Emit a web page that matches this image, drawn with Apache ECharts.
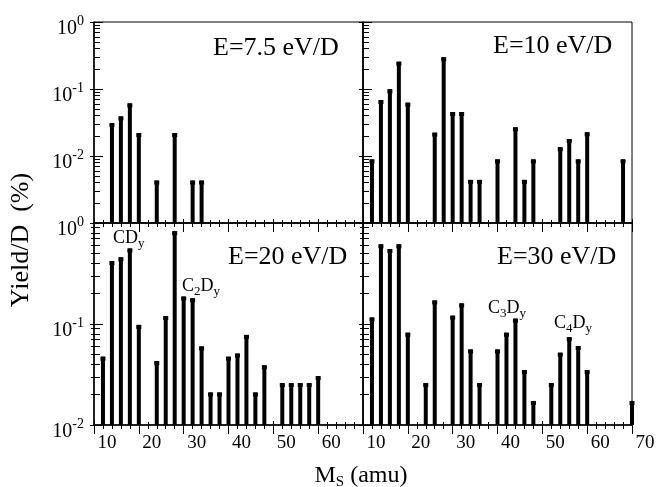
<!DOCTYPE html>
<html>
<head>
<meta charset="utf-8">
<script src="https://cdn.jsdelivr.net/npm/echarts@6/dist/echarts.min.js"></script>
<style>
  html, body { margin: 0; padding: 0; background: #fff; }
  #yield-chart { width: 659px; height: 487px; }
</style>
</head>
<body>
<div id="yield-chart"></div>
<script>
// sputtered mass (amu) and yield per D (%), one pair of arrays per energy
const mass75 = [14, 16, 18, 20, 24, 28, 32, 34];
const yield75 = [0.031, 0.039, 0.061, 0.022, 0.0043, 0.022, 0.0043, 0.0043];

const mass10 = [12, 14, 16, 18, 20, 26, 28, 30, 32, 34, 36, 40, 44, 46, 48, 54, 56, 58, 60, 68];
const yield10 = [0.0089, 0.0685, 0.099, 0.256, 0.0625, 0.0223, 0.297, 0.0454, 0.0454, 0.0044,
  0.0044, 0.0089, 0.0268, 0.0044, 0.0089, 0.0135, 0.0179, 0.0089, 0.0226, 0.0089];

const mass20 = [12, 14, 16, 18, 20, 24, 26, 28, 30, 32, 34, 36, 38, 40, 42, 44, 46, 48, 52, 54, 56, 58, 60];
const yield20 = [0.0475, 0.42, 0.457, 0.56, 0.098, 0.043, 0.12, 0.83, 0.187, 0.18, 0.06, 0.021,
  0.021, 0.0475, 0.051, 0.078, 0.021, 0.039, 0.026, 0.026, 0.026, 0.026, 0.0305];

const mass30 = [12, 14, 16, 18, 20, 24, 26, 30, 32, 34, 36, 40, 42, 44, 46, 48, 52, 54, 56, 58, 60, 70];
const yield30 = [0.116, 0.615, 0.553, 0.615, 0.082, 0.026, 0.171, 0.121, 0.16, 0.056, 0.026,
  0.056, 0.082, 0.113, 0.035, 0.0173, 0.026, 0.052, 0.074, 0.0605, 0.035, 0.0173];

const energyLabels = ["E=7.5 eV/D", "E=10 eV/D", "E=20 eV/D", "E=30 eV/D"];

// axis ticks
const xTicksLeft = [10, 20, 30, 40, 50, 60];
const xTicksRight = [10, 20, 30, 40, 50, 60, 70];
const yDecadesTop = [0.001, 0.01, 0.1, 1];
const yDecadesBottom = [0.01, 0.1, 1];
const yLabelValues = [0.01, 0.1, 1];
const yLabelExps = ["-2", "-1", "0"];
const minorMult = [2, 3, 4, 5, 6, 7, 8, 9];

const FONT = "'Liberation Serif', 'DejaVu Serif', serif";

function minorTicks(decades) {
  const out = [];
  decades.slice(0, -1).forEach((d) => minorMult.forEach((k) => out.push(+(k * d).toPrecision(3))));
  return out;
}

const panels = [
  { left: 94, top: 22, height: 201, ymin: 0.001, decades: yDecadesTop, xLabels: null, yLabels: true, mass: mass75, vals: yield75 },
  { left: 363, top: 22, height: 201, ymin: 0.001, decades: yDecadesTop, xLabels: null, yLabels: false, mass: mass10, vals: yield10 },
  { left: 94, top: 223, height: 202, ymin: 0.01, decades: yDecadesBottom, xLabels: xTicksLeft, yLabels: true, mass: mass20, vals: yield20 },
  { left: 363, top: 223, height: 202, ymin: 0.01, decades: yDecadesBottom, xLabels: xTicksRight, yLabels: false, mass: mass30, vals: yield30 },
];

const grid = [];
const xAxis = [];
const yAxis = [];
const series = [];

panels.forEach((p, gi) => {
  grid.push({ left: p.left, top: p.top, width: 269, height: p.height, show: true, borderColor: "#000", borderWidth: 1 });

  // x: one axis with outward ticks and labels, one with inward ticks
  xAxis.push({
    gridIndex: gi, type: "value", position: "bottom", min: 10, max: 70, interval: 10,
    axisLine: { show: true, lineStyle: { color: "#000", width: 1.5 } },
    axisTick: { show: true, inside: false, length: 9, lineStyle: { color: "#000" } },
    minorTick: { show: true, splitNumber: 5, length: 4, lineStyle: { color: "#000" } },
    splitLine: { show: false },
    axisLabel: {
      show: !!p.xLabels, customValues: p.xLabels || [], margin: 9, padding: [0, 0, 0, 26],
      color: "#000", fontSize: 19, fontFamily: FONT,
    },
  });
  xAxis.push({
    gridIndex: gi, type: "value", position: "bottom", min: 10, max: 70, interval: 10,
    axisLine: { show: false },
    axisTick: { show: true, inside: true, length: 4, lineStyle: { color: "#000" } },
    minorTick: { show: true, splitNumber: 5, length: 3, lineStyle: { color: "#000" } },
    splitLine: { show: false },
    axisLabel: { show: false },
  });

  // y: labelled decade axis, then inward decade ticks, inward and outward minor ticks
  const yBase = { gridIndex: gi, type: "log", logBase: 10, position: "left", min: p.ymin, max: 1, splitLine: { show: false } };
  yAxis.push(Object.assign({}, yBase, {
    axisLine: { show: true, lineStyle: { color: "#000", width: 1.5 } },
    axisTick: { show: true, inside: false, length: 4, customValues: p.decades, lineStyle: { color: "#000" } },
    axisLabel: {
      show: p.yLabels, customValues: yLabelValues, margin: 10, padding: [14, 0, 0, 0],
      formatter: (v) => {
        const i = yLabelValues.findIndex((t) => Math.abs(t - v) / t < 1e-6);
        return "{b|10}{p|" + (i < 0 ? "" : yLabelExps[i]) + "}";
      },
      rich: {
        b: { fontSize: 20, fontFamily: FONT, color: "#000", lineHeight: 30 },
        p: { fontSize: 14, fontFamily: FONT, color: "#000", lineHeight: 14, verticalAlign: "top" },
      },
    },
  }));
  yAxis.push(Object.assign({}, yBase, {
    axisLine: { show: false },
    axisTick: { show: true, inside: true, length: 9, customValues: p.decades, lineStyle: { color: "#000" } },
    axisLabel: { show: false },
  }));
  yAxis.push(Object.assign({}, yBase, {
    axisLine: { show: false },
    axisTick: { show: true, inside: true, length: 6, customValues: minorTicks(p.decades), lineStyle: { color: "#000" } },
    axisLabel: { show: false },
  }));
  yAxis.push(Object.assign({}, yBase, {
    axisLine: { show: false },
    axisTick: { show: gi >= 2, inside: false, length: 3, customValues: minorTicks(p.decades), lineStyle: { color: "#000" } },
    axisLabel: { show: false },
  }));

  series.push({
    type: "custom",
    xAxisIndex: 2 * gi,
    yAxisIndex: 4 * gi,
    data: p.mass.map((m, i) => [m, p.vals[i]]),
    renderItem: (params, api) => {
      const pt = api.coord([api.value(0), api.value(1)]);
      const base = params.coordSys.y + params.coordSys.height;
      return {
        type: "group",
        children: [
          { type: "rect", shape: { x: pt[0] - 2, y: pt[1], width: 4, height: base - pt[1] }, style: { fill: "#000" } },
          { type: "rect", shape: { x: pt[0] - 2.5, y: pt[1], width: 5, height: 4 }, style: { fill: "#000" } },
        ],
      };
    },
  });
});

const subRich = {
  m: { fontSize: 18, fontFamily: FONT, fill: "#000", color: "#000", lineHeight: 24 },
  s: { fontSize: 13, fontFamily: FONT, fill: "#000", color: "#000", lineHeight: 13, verticalAlign: "bottom" },
};

function label(x, y, text) {
  return { type: "text", x: x, y: y, style: { text: text, rich: subRich, align: "left", verticalAlign: "middle" } };
}

const titlePos = [[213, 48], [493, 46], [228, 257], [497, 257]];

const graphic = energyLabels.map((t, i) => ({
  type: "text", x: titlePos[i][0], y: titlePos[i][1],
  style: { text: t, fontSize: 26, fontFamily: FONT, fill: "#000", align: "left", verticalAlign: "middle" },
}));

graphic.push(label(113, 238, "{m|CD}{s|y}"));
graphic.push(label(182, 286, "{m|C}{s|2}{m|D}{s|y}"));
graphic.push(label(488, 308, "{m|C}{s|3}{m|D}{s|y}"));
graphic.push(label(554, 323, "{m|C}{s|4}{m|D}{s|y}"));

// axis titles
graphic.push({
  type: "text", x: 21, y: 240, rotation: Math.PI / 2,
  style: { text: "Yield/D  (%)", fontSize: 26, fontFamily: FONT, fill: "#000", align: "center", verticalAlign: "middle" },
});
graphic.push({
  type: "text", x: 361, y: 476,
  style: {
    text: "{m|M}{s|S}{m| (amu)}", align: "center", verticalAlign: "middle",
    rich: {
      m: { fontSize: 24, fontFamily: FONT, fill: "#000", lineHeight: 28 },
      s: { fontSize: 15, fontFamily: FONT, fill: "#000", lineHeight: 15, verticalAlign: "bottom" },
    },
  },
});

const myChart = echarts.init(document.getElementById("yield-chart"));
myChart.setOption({
  animation: false,
  backgroundColor: "#fff",
  grid: grid,
  xAxis: xAxis,
  yAxis: yAxis,
  series: series,
  graphic: graphic,
});
</script>
</body>
</html>
